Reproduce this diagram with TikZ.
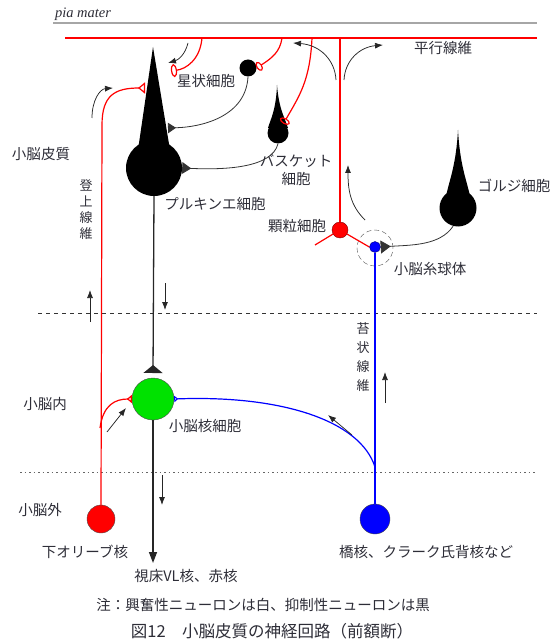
\documentclass[tikz,border=0pt]{standalone}
\usepackage{fontspec}
\setmainfont{Noto Sans CJK JP}
\newfontfamily\latinserif{Liberation Serif}
\usetikzlibrary{arrows.meta}
\definecolor{nucgreen}{RGB}{0,226,0}
\definecolor{txtgray}{RGB}{45,45,55}

\begin{document}
\begin{tikzpicture}[x=1pt,y=-1pt,
	every node/.style={inner sep=0pt,text=txtgray,font=\fontsize{14.5}{18}\selectfont},
	soma/.style={circle,fill=black,minimum size=#1},
	redfib/.style={draw=red,line width=1.2pt},
	bluefib/.style={draw=blue,line width=1.2pt},
	axon/.style={draw=black!80,line width=0.8pt},
	inh/.style={-{Triangle[reversed,length=#1,width=1.3*#1]}},
	exc/.style={-{Triangle[reversed,open,length=#1,width=1.6*#1]}},
	spine/.style={-{Ellipse[open,length=6pt,width=#1]}},
	flow/.style={draw=black!85,line width=0.75pt,-{Latex[length=8pt,width=6pt]}},
	vtext/.style={align=center,font=\fontsize{13}{#1}\selectfont}
	]
	\useasboundingbox (0,0) rectangle (552,644);

	% pia mater and parallel fibres
	\node[font=\latinserif\itshape\fontsize{14.5}{16}\selectfont] (pia) at (83,14) {pia mater};
	\coordinate (piaL) at (53,23);
	\coordinate (piaR) at (537,23);
	\draw[gray!70,line width=2.2pt] (piaL) -- (piaR);
	\coordinate (pfL) at (65,38);
	\coordinate (pfR) at (537,38);
	\draw[redfib] (pfL) -- (pfR);

	% layer borders
	\coordinate (upL) at (38,313);
	\coordinate (upR) at (537,313);
	\coordinate (loL) at (20,472);
	\coordinate (loR) at (537,472);
	\draw[black!80,dash pattern=on 4pt off 4pt] (upL) -- (upR);
	\draw[black!60,line width=1pt,dash pattern=on 1.5pt off 3pt] (loL) -- (loR);

	% cells
	\node[soma=56] (purk) at (154,168) {};
	\fill (138,150) -- (153,47) -- (170,150) -- cycle;
	\node[soma=17] (stell) at (248,68) {};
	\node[soma=21] (bask) at (278,133) {};
	\fill (277,85) .. controls (276,110) and (271,118) .. (268,128) -- (288,128)
		.. controls (285,118) and (279,110) .. (277,85);
	\node[soma=37] (golgi) at (458,208) {};
	\fill (458,130) .. controls (456,165) and (450,178) .. (446,196) -- (470,196)
		.. controls (466,178) and (460,165) .. (458,130);
	\node[soma=16,fill=red,draw=red!50!black,thin] (gran) at (340,230) {};
	\node[soma=11,fill=blue,draw=blue!50!black,thin] (glom) at (375,247) {};
	\node[circle,draw=black!70,dash pattern=on 5pt off 3pt,minimum size=36] (ring) at (375,248) {};
	\node[soma=42,fill=nucgreen,draw=black!70,thin] (nuc) at (153,399) {};
	\node[soma=28,fill=red,draw=black!70,thin] (olive) at (101,519) {};
	\node[soma=30,fill=blue,draw=black!70,thin] (pont) at (375,519) {};

	% climbing fibre
	\coordinate (cfsyn) at (145,88);
	\coordinate (cfbend) at (102,125);
	\coordinate (cfbranch) at (100,428);
	\draw[redfib,exc=7pt] (olive.north) -- (cfbend) .. controls (102,95) and (115,88) .. (cfsyn);
	\draw[redfib,exc=5pt] (cfbranch) .. controls (103,405) and (115,399) .. (nuc.west);

	% granule cell and parallel fibre synapses
	\coordinate (pf1) at (202,38);
	\coordinate (pf2) at (282,38);
	\coordinate (pf3) at (312,38);
	\coordinate (pf4) at (340,38);
	\coordinate (pfspine) at (171,71);
	\coordinate (granleg) at (315,245);
	\draw[redfib] (gran.north) -- (pf4);
	\draw[redfib] (gran.210) -- (granleg);
	\draw[redfib] (gran.-30) -- (glom.west);
	\draw[redfib,spine=13pt] (pf1) .. controls (200,60) and (186,69) .. (pfspine);
	\draw[redfib,spine=10pt] (pf2) .. controls (280,52) and (272,58) .. (stell.east);
	\draw[redfib,spine=11pt] (pf3) .. controls (310,80) and (300,95) .. (bask.60);

	% inhibitory axons
	\coordinate (stsyn) at (168,128);
	\coordinate (purksyn) at (153,373);
	\draw[axon,inh=8pt] (stell.south) .. controls (246,115) and (205,127) .. (stsyn);
	\draw[axon,inh=9pt] (bask.south) .. controls (272,168) and (225,170) .. (purk.east);
	\draw[axon,inh=10pt] (golgi.-105) .. controls (440,246) and (410,245) .. (glom.east);
	\draw[black!85,line width=1.3pt,-{Triangle[reversed,length=8pt,width=19pt]}] (purk.south) -- (purksyn);

	% nuclear output
	\coordinate (thal) at (153,563);
	\draw[black!85,line width=1.4pt,-{Triangle[length=11pt,width=8pt]}] (nuc.south) -- (thal);

	% mossy fibre
	\coordinate (mfbranch) at (375,467);
	\draw[bluefib] (pont.north) -- (glom.south);
	\draw[bluefib,exc=4pt] (mfbranch) .. controls (360,420) and (280,395) .. (nuc.east);

	% direction of conduction
	\draw[flow] (188,43) .. controls (185,55) and (178,60) .. (168,63);
	\draw[flow] (92,118) .. controls (92,100) and (100,89) .. (113,88);
	\draw[flow] (336,80) .. controls (335,60) and (320,45) .. (293,43);
	\draw[flow] (344,80) .. controls (345,60) and (360,47) .. (383,45);
	\draw[flow] (365,220) .. controls (350,205) and (348,190) .. (348,165);
	\draw[flow] (165,283) -- (165,310);
	\draw[flow] (90,322) -- (90,290);
	\draw[flow] (107,432) -- (126,408);
	\draw[flow] (352,435) -- (328,415);
	\draw[flow] (385,403) -- (385,372);
	\draw[flow] (162,475) -- (162,505);

	% labels
	\node (lpf) at (443,48) {平行線維};
	\node (lstell) at (206,81) {星状細胞};
	\node[align=center] (lbask) at (296,170) {バスケット\\細胞};
	\node (lgolgi) at (514,186) {ゴルジ細胞};
	\node (lpurk) at (215,204) {プルキンエ細胞};
	\node (lgran) at (297,226) {顆粒細胞};
	\node (lglom) at (430,269) {小脳糸球体};
	\node (lcortex) at (41,154) {小脳皮質};
	\node[vtext=16] (lcf) at (86,210) {登\\上\\線\\維};
	\node[vtext=19] (lmf) at (363,357) {苔\\状\\線\\維};
	\node (lin) at (45,404) {小脳内};
	\node (lnuc) at (205,426) {小脳核細胞};
	\node (lout) at (40,510) {小脳外};
	\node (lolive) at (85,552) {下オリーブ核};
	\node (lthal) at (186,576) {視床VL核、赤核};
	\node (lpont) at (426,552) {橋核、クラーク氏背核など};
	\node (lnote) at (263,605) {注：興奮性ニューロンは白、抑制性ニューロンは黒};
	\node[font=\fontsize{16.5}{20}\selectfont] (lcap) at (272,631) {図12\quad 小脳皮質の神経回路（前額断）};
\end{tikzpicture}
\end{document}
